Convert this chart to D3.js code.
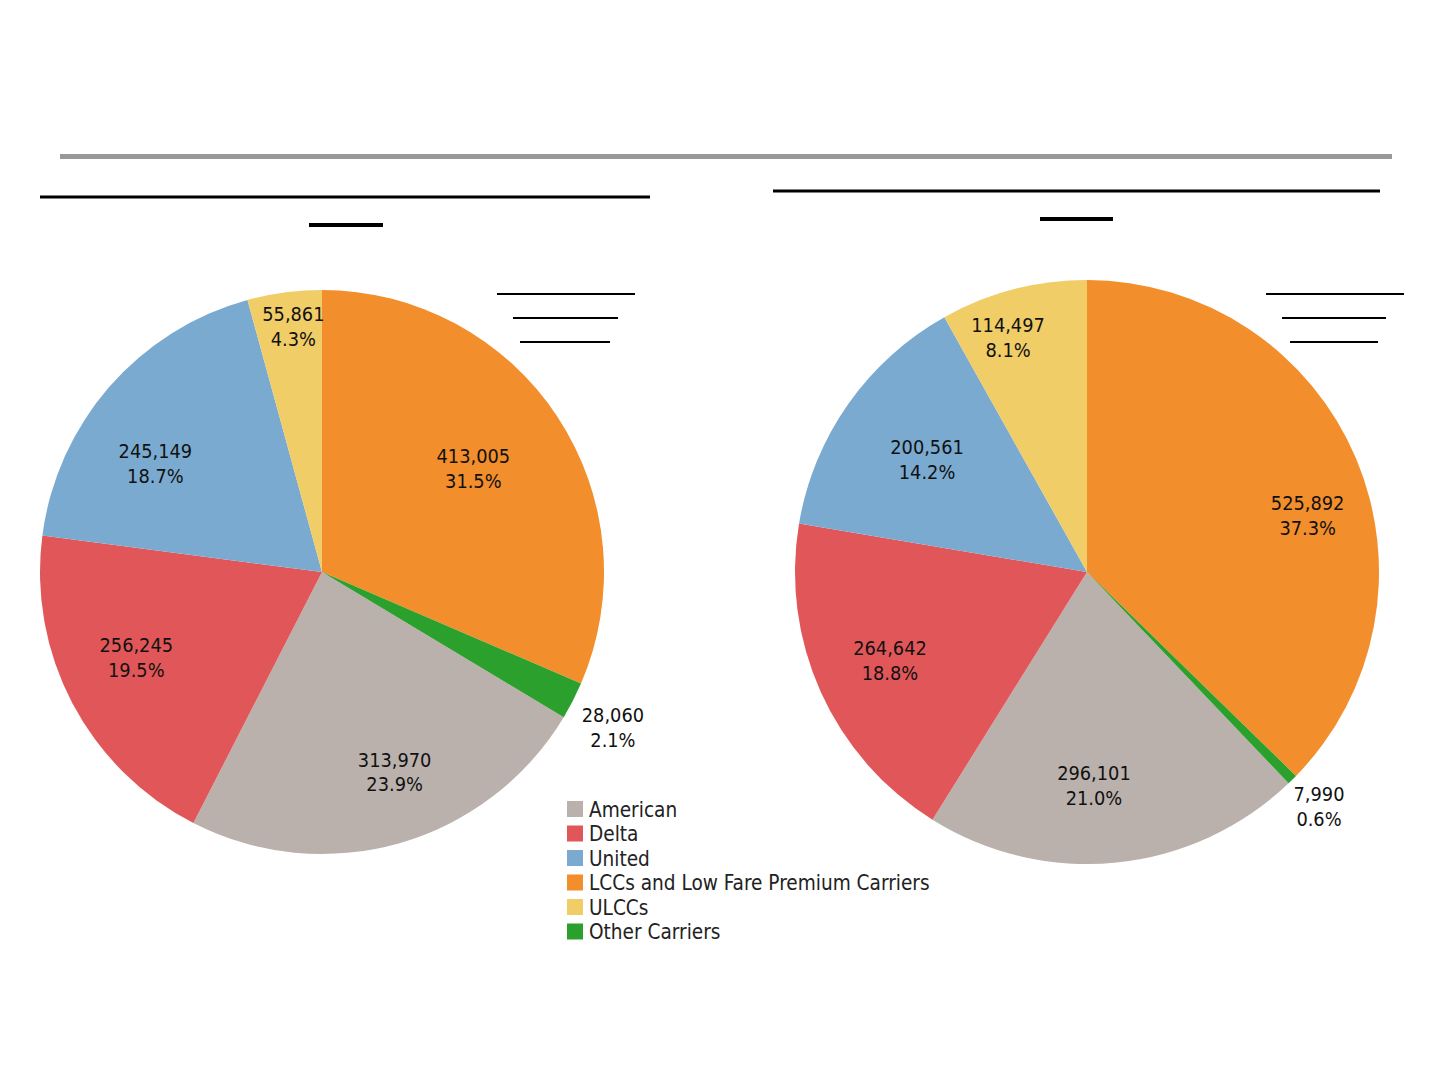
<!DOCTYPE html>
<html>
<head>
<meta charset="utf-8">
<script src="https://cdn.jsdelivr.net/npm/d3@7"></script>
<style>
  html, body { margin: 0; padding: 0; background: #fff; }
  svg { display: block; }
  text { font-family: "DejaVu Sans", Tahoma, sans-serif; font-stretch: condensed; }
</style>
</head>
<body>
<script>
// legend order
const categories = ['American', 'Delta', 'United', 'LCCs and Low Fare Premium Carriers', 'ULCCs', 'Other Carriers']
// order slices are drawn, clockwise from 12 o'clock
const sliceOrder = ['LCCs and Low Fare Premium Carriers', 'Other Carriers', 'American', 'Delta', 'United', 'ULCCs']

const leftValues = [313970, 256245, 245149, 413005, 55861, 28060]
const rightValues = [296101, 264642, 200561, 525892, 114497, 7990]

const colors = ['#bab0ac', '#e15759', '#7aaad0', '#f28e2c', '#f0cd67', '#2ca02c']

const width = 1440, height = 1080

const svg = d3.select('body').append('svg')
  .attr('width', width)
  .attr('height', height)

const color = d3.scaleOrdinal(categories, colors)
const fmt = d3.format(',')
const pct = d3.format('.1%')

// header rule
svg.append('rect')
  .attr('x', 60).attr('y', 154)
  .attr('width', 1332).attr('height', 5)
  .attr('fill', '#989898')

// title underlines (title text itself is blank in the source)
const rules = [
  [40, 650, 197, 3], [309, 383, 225, 4],
  [773, 1380, 191, 3], [1040, 1113, 219, 4],
  [497, 635, 294, 2], [513, 618, 318, 2], [520, 610, 342, 2],
  [1266, 1404, 294, 2], [1282, 1386, 318, 2], [1290, 1378, 342, 2]
]
svg.append('g').selectAll('line')
  .data(rules)
  .join('line')
  .attr('x1', (d) => d[0]).attr('x2', (d) => d[1])
  .attr('y1', (d) => d[2]).attr('y2', (d) => d[2])
  .attr('stroke', '#000')
  .attr('stroke-width', (d) => d[3])

// label placement: [radius as fraction of pie radius, angle nudge in degrees]
// Excel's "best fit" doesn't sit exactly on the slice bisector
const labelPos = {
  left: {
    'LCCs and Low Fare Premium Carriers': [0.65, -1],
    'Other Carriers': [1.17, 1],
    American: [0.755, -4],
    Delta: [0.725, 3],
    United: [0.705, -8],
    ULCCs: [0.875, 1]
  },
  right: {
    'LCCs and Low Fare Premium Carriers': [0.78, 8.5],
    'Other Carriers': [1.13, 0],
    American: [0.733, 4],
    Delta: [0.74, 0],
    United: [0.67, 0],
    ULCCs: [0.847, -4]
  }
}

function drawPie(values, cx, cy, r, pos) {
  const rows = categories.map((c, i) => ({ name: c, value: values[i] }))
  const total = d3.sum(rows, (d) => d.value)

  const pie = d3.pie()
    .value((d) => d.value)
    .sort((a, b) => sliceOrder.indexOf(a.name) - sliceOrder.indexOf(b.name))

  const arc = d3.arc().innerRadius(0).outerRadius(r)
  const arcs = pie(rows)

  const g = svg.append('g').attr('transform', `translate(${cx},${cy})`)

  g.selectAll('path')
    .data(arcs)
    .join('path')
    .attr('d', arc)
    .attr('fill', (d) => color(d.data.name))

  const lbl = g.selectAll('text')
    .data(arcs)
    .join('text')
    .attr('transform', (d) => {
      const [f, nudge] = pos[d.data.name]
      const rr = r * f
      const a = (d.startAngle + d.endAngle) / 2 + (nudge * Math.PI) / 180
      return `translate(${rr * Math.sin(a)},${-rr * Math.cos(a)})`
    })
    .attr('text-anchor', 'middle')
    .attr('font-size', 19.8)
    .attr('fill', '#111')

  lbl.append('tspan')
    .attr('x', 0).attr('dy', '-0.28em')
    .text((d) => fmt(d.data.value))
  lbl.append('tspan')
    .attr('x', 0).attr('dy', '1.25em')
    .text((d) => pct(d.data.value / total))
}

drawPie(leftValues, 322, 572, 282, labelPos.left)
drawPie(rightValues, 1087, 572, 292, labelPos.right)

// legend
const legend = svg.append('g').attr('transform', 'translate(567,800)')
const y = d3.scaleBand().domain(categories).range([0, 147])

const item = legend.selectAll('g')
  .data(categories)
  .join('g')
  .attr('transform', (d) => `translate(0,${y(d)})`)

item.append('rect')
  .attr('width', 16).attr('height', 16)
  .attr('y', 1)
  .attr('fill', (d) => color(d))

item.append('text')
  .attr('x', 22).attr('y', 16.5)
  .attr('font-size', 20.6)
  .attr('fill', '#222')
  .text((d) => d)
</script>
</body>
</html>
